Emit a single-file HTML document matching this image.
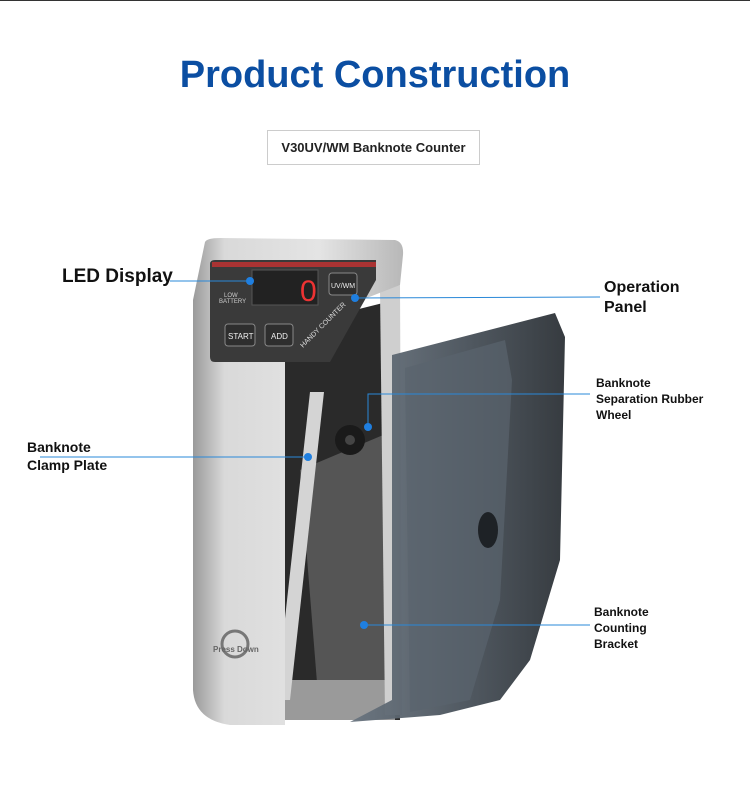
<!DOCTYPE html>
<html><head><meta charset="utf-8"><style>
html,body{margin:0;padding:0;background:#fff;}
body{width:750px;height:807px;position:relative;overflow:hidden;font-family:"Liberation Sans",sans-serif;}
.t{position:absolute;font-weight:bold;color:#111;}
</style></head><body>
<div style="position:absolute;left:0;top:0;width:750px;height:1px;background:#333"></div>
<div class="t" style="left:0;width:750px;text-align:center;top:54px;font-size:38px;color:#0b4ea2;">Product Construction</div>
<div style="position:absolute;left:267px;top:130px;width:213px;height:35px;border:1px solid #ccc;box-sizing:border-box;font-size:13px;font-weight:bold;text-align:center;line-height:33px;color:#222">V30UV/WM Banknote Counter</div>
<svg width="750" height="807" style="position:absolute;left:0;top:0">
<defs>
<linearGradient id="sh" x1="0" x2="1"><stop offset="0" stop-color="#9a9a9a"/><stop offset="0.15" stop-color="#d9d9d9"/><stop offset="0.6" stop-color="#e4e4e4"/><stop offset="1" stop-color="#b8b8b8"/></linearGradient>
<linearGradient id="cv" x1="0" x2="1"><stop offset="0" stop-color="#6a7580"/><stop offset="0.5" stop-color="#4a535c"/><stop offset="1" stop-color="#2c3136"/></linearGradient>
</defs>
<!-- interior -->
<polygon points="275,330 395,300 400,720 275,720" fill="#2a2a2a"/>
<polygon points="300,470 395,430 395,720 320,720" fill="#555"/>
<rect x="285" y="680" width="110" height="40" fill="#9a9a9a"/>
<!-- right inner wall -->
<polygon points="380,290 400,285 402,715 385,715" fill="#cfcfcf"/>
<!-- cover -->
<polygon points="392,355 555,313 565,337 560,560 530,660 500,700 440,715 350,722 392,700" fill="url(#cv)" opacity="0.95"/>
<polygon points="405,368 505,340 512,380 500,600 470,700 410,712" fill="#5a646e" opacity="0.7"/>
<ellipse cx="488" cy="530" rx="10" ry="18" fill="#1e2226"/>
<!-- clamp plate -->
<polygon points="310,392 324,392 290,700 276,700" fill="#d4d4d4"/>
<!-- wheel -->
<circle cx="350" cy="440" r="15" fill="#1a1a1a"/><circle cx="350" cy="440" r="5" fill="#444"/>
<!-- shell -->
<path d="M205,242 Q207,238 220,238 L395,240 Q404,242 403,255 L400,285 L285,330 L285,725 L230,725 Q195,720 193,690 L193,300 Z" fill="url(#sh)"/>
<!-- panel -->
<path d="M210,264 Q210,260 215,260 L376,260 L376,280 L330,362 L215,362 Q210,362 210,357 Z" fill="#3a3a3a"/>
<rect x="212" y="262" width="164" height="5" fill="#a33"/>
<rect x="252" y="270" width="66" height="35" fill="#222" stroke="#555"/>
<text x="300" y="301" font-family="Liberation Sans" font-size="30" fill="#e33">0</text>
<text x="224" y="297" font-size="6" fill="#ccc">LOW</text><text x="219" y="303" font-size="6" fill="#ccc">BATTERY</text>
<rect x="329" y="273" width="28" height="22" rx="3" fill="#2e2e2e" stroke="#888"/><text x="331" y="288" font-size="7" fill="#eee">UV/WM</text>
<rect x="225" y="324" width="30" height="22" rx="3" fill="#2e2e2e" stroke="#888"/><text x="228" y="339" font-size="8" fill="#eee">START</text>
<rect x="265" y="324" width="28" height="22" rx="3" fill="#2e2e2e" stroke="#888"/><text x="271" y="339" font-size="8" fill="#eee">ADD</text>
<text x="0" y="0" font-size="7" fill="#ddd" transform="translate(303,348) rotate(-45)">HANDY COUNTER</text>
<circle cx="235" cy="644" r="13" fill="none" stroke="#777" stroke-width="3"/><text x="213" y="652" font-size="8" font-weight="bold" fill="#666">Press Down</text>
<!-- leaders -->
<g stroke="#2a88d8" stroke-width="1" fill="#1f7fe0">
<line x1="170" y1="281" x2="250" y2="281"/><circle cx="250" cy="281" r="4" stroke="none"/>
<line x1="355" y1="298" x2="600" y2="297"/><circle cx="355" cy="298" r="4" stroke="none"/>
<polyline points="368,427 368,394 590,394" fill="none"/><circle cx="368" cy="427" r="4" stroke="none"/>
<line x1="40" y1="457" x2="308" y2="457"/><circle cx="308" cy="457" r="4" stroke="none"/>
<line x1="364" y1="625" x2="590" y2="625"/><circle cx="364" cy="625" r="4" stroke="none"/>
</g>
</svg>
<div class="t" style="left:62px;top:266px;font-size:19px;">LED Display</div>
<div class="t" style="left:604px;top:278px;font-size:16px;line-height:20px">Operation<br>Panel</div>
<div class="t" style="left:596px;top:375px;font-size:12px;line-height:16px">Banknote<br>Separation Rubber<br>Wheel</div>
<div class="t" style="left:27px;top:438px;font-size:14px;line-height:18px">Banknote<br>Clamp Plate</div>
<div class="t" style="left:594px;top:604px;font-size:12px;line-height:16px">Banknote<br>Counting<br>Bracket</div>
</body></html>
